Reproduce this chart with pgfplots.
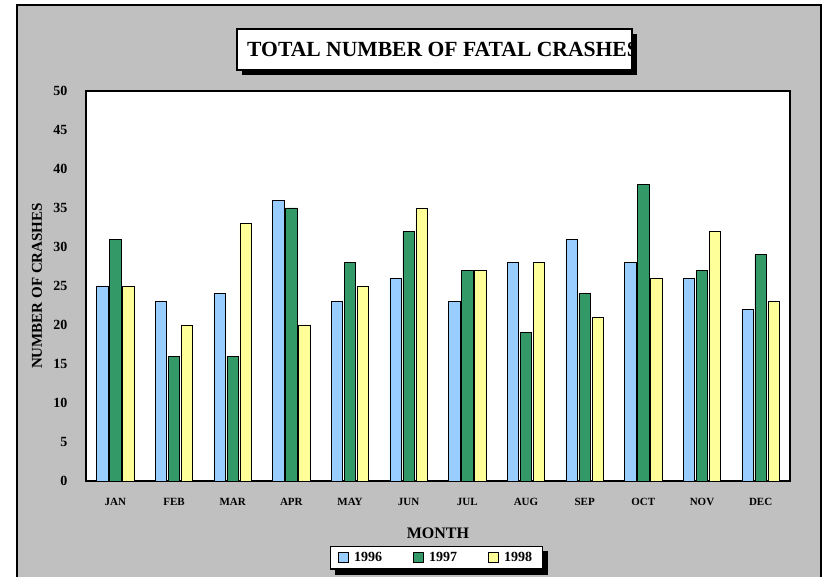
\documentclass[border=0pt]{standalone}
\usepackage{pgfplots}
\pgfplotsset{compat=1.18}
\usepackage{fontspec}
\setmainfont{Liberation Serif}
\definecolor{bgray}{HTML}{C0C0C0}
\definecolor{c96}{HTML}{99CCFF}
\definecolor{c97}{HTML}{339966}
\definecolor{c98}{HTML}{FFFF99}
\pgfdeclarelayer{bgzero}
\pgfdeclarelayer{bgone}
\pgfsetlayers{bgzero,bgone,main}
\begin{document}
\begin{tikzpicture}[x=1pt,y=1pt]
\begin{pgfonlayer}{bgzero}
\path[use as bounding box, fill=white] (0,0) rectangle (831,577);
\begin{scope}
\clip (0,0) rectangle (831,577);
\draw[fill=bgray, line width=1.5pt] (17,-20) rectangle (821,572);
\end{scope}
\end{pgfonlayer}
% title box
\fill[black] (242,502) rectangle (637,543);
\draw[fill=white, line width=1.2pt] (237,507) rectangle (632,548);
\begin{scope}
\clip (237.6,507.6) rectangle (631.4,547.4);
\node[anchor=west, font=\fontsize{21.6}{24}\selectfont\bfseries, inner sep=0] at (247,527.5) {TOTAL NUMBER OF FATAL CRASHES};
\end{scope}
\begin{axis}[
  at={(86pt,96pt)}, anchor=south west,
  width=704pt, height=390pt, scale only axis,
  ybar=1.5pt, bar width=11.5pt,
  ymin=0, ymax=50, ytick={0,5,...,50},
  xmin=-0.5, xmax=11.5, xtick={0,...,11},
  xticklabels={JAN,FEB,MAR,APR,MAY,JUN,JUL,AUG,SEP,OCT,NOV,DEC},
  major tick length=0pt,
  axis line style={line width=1.5pt},
  axis background/.style={fill=white},
  /pgf/number format/assume math mode=true,
  yticklabel style={font=\fontsize{14}{16}\selectfont\bfseries, xshift=-15pt},
  xticklabel style={font=\fontsize{11}{13}\selectfont\bfseries, yshift=-14pt},
  ylabel={NUMBER OF CRASHES},
  ylabel style={font=\fontsize{15}{17}\selectfont\bfseries, at={(axis description cs:-0.0696,0.5)}, anchor=center},
  xlabel={MONTH},
  xlabel style={font=\fontsize{16}{18}\selectfont\bfseries, at={(axis description cs:0.5,-0.1333)}, anchor=center},
  every axis plot/.append style={draw=black, line width=0.8pt},
  legend columns=3,
  legend cell align=left,
  legend style={name=leg, at={(0.4975,-0.1962)}, anchor=center, draw=black, line width=1.2pt, fill=white,
    font=\fontsize{14}{16}\selectfont\bfseries, inner xsep=8pt, inner ysep=4pt,
    /tikz/every odd column/.append style={column sep=3pt},
    /tikz/every even column/.append style={column sep=29pt}},
  legend image code/.code={\draw[#1, line width=1pt] (0pt,-4.5pt) rectangle (10pt,5.5pt);},
]
\addplot[fill=c96] coordinates {(0,25) (1,23) (2,24) (3,36) (4,23) (5,26) (6,23) (7,28) (8,31) (9,28) (10,26) (11,22)};
\addplot[fill=c97] coordinates {(0,31) (1,16) (2,16) (3,35) (4,28) (5,32) (6,27) (7,19) (8,24) (9,38) (10,27) (11,29)};
\addplot[fill=c98] coordinates {(0,25) (1,20) (2,33) (3,20) (4,25) (5,35) (6,27) (7,28) (8,21) (9,26) (10,32) (11,23)};
\legend{1996,1997,1998}
\end{axis}
\begin{pgfonlayer}{bgone}
\fill[black] ([shift={(5pt,-5pt)}]leg.south west) rectangle ([shift={(5pt,-5pt)}]leg.north east);
\end{pgfonlayer}
\end{tikzpicture}
\end{document}
